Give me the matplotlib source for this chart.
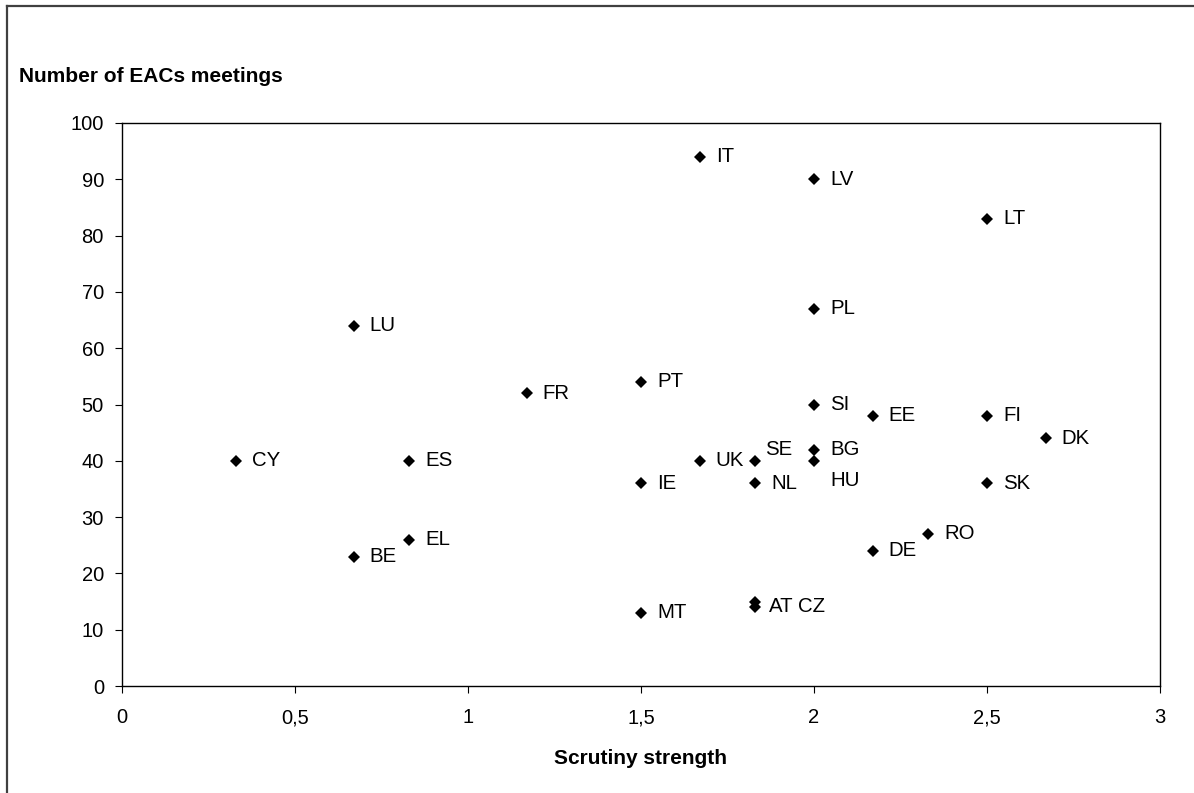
import matplotlib
matplotlib.use("Agg")
import matplotlib.pyplot as plt
from matplotlib.lines import Line2D

plt.rcParams['font.family'] = ['Liberation Sans', 'DejaVu Sans']

countries = ["CY", "BE", "LU", "ES", "EL", "FR", "PT", "IE", "MT", "IT", "UK",
             "SE", "NL", "AT", "CZ", "LV", "PL", "SI", "BG", "HU", "EE", "DE",
             "RO", "LT", "FI", "SK", "DK"]
scrutiny = [0.33, 0.67, 0.67, 0.83, 0.83, 1.17, 1.5, 1.5, 1.5, 1.67, 1.67,
            1.83, 1.83, 1.83, 1.83, 2.0, 2.0, 2.0, 2.0, 2.0, 2.17, 2.17,
            2.33, 2.5, 2.5, 2.5, 2.67]
meetings = [40, 23, 64, 40, 26, 52, 54, 36, 13, 94, 40,
            40, 36, 15, 14, 90, 67, 50, 42, 40, 48, 24,
            27, 83, 48, 36, 44]

xticks = [0, 0.5, 1, 1.5, 2, 2.5, 3]
xticklabels = ["0", "0,5", "1", "1,5", "2", "2,5", "3"]
yticks = [0, 10, 20, 30, 40, 50, 60, 70, 80, 90, 100]

W, H = 1194, 793
fig = plt.figure(figsize=(W / 100, H / 100), dpi=100)
ax = fig.add_axes([122 / W, 1 - 686 / H, (1160 - 122) / W, (686 - 123) / H])

ax.plot(scrutiny, meetings, linestyle='none', marker='D', markersize=6.3,
        markeredgewidth=0, color='black', clip_on=False)

# label offsets in pixels (dx, dy); default to the right of the marker
px = 72 / 100
special = {"SE": (10, 11), "HU": (16, -20), "AT": (14, -5), "CZ": (43, 1)}
for c, x, y in zip(countries, scrutiny, meetings):
    dx, dy = special.get(c, (16, 0))
    ax.annotate(c, (x, y), xytext=(dx * px, dy * px), textcoords='offset points',
                ha='left', va='center', fontsize=14.7, color='black')

ax.set_xlim(0, 3)
ax.set_ylim(0, 100)
ax.set_xticks(xticks)
ax.set_xticklabels(xticklabels)
ax.set_yticks(yticks)
ax.tick_params(direction='out', length=5, width=0.8, labelsize=14.5,
               colors='black')
ax.tick_params(axis='x', pad=11)
ax.tick_params(axis='y', pad=8)
for s in ax.spines.values():
    s.set_linewidth(1.0)
    s.set_color('black')

fig.text(19 / W, 1 - 77 / H, "Number of EACs meetings", fontsize=15,
         fontweight='bold', ha='left', va='center')
fig.text(641 / W, 1 - 758 / H, "Scrutiny strength", fontsize=15,
         fontweight='bold', ha='center', va='center')

# outer frame (only top and left visible)
fig.add_artist(Line2D([7 / W, 1], [1 - 6 / H, 1 - 6 / H], color='#404040',
                      linewidth=1.6, transform=fig.transFigure))
fig.add_artist(Line2D([7 / W, 7 / W], [0, 1 - 6 / H], color='#404040',
                      linewidth=1.6, transform=fig.transFigure))

fig.savefig("out.png", dpi=100)
